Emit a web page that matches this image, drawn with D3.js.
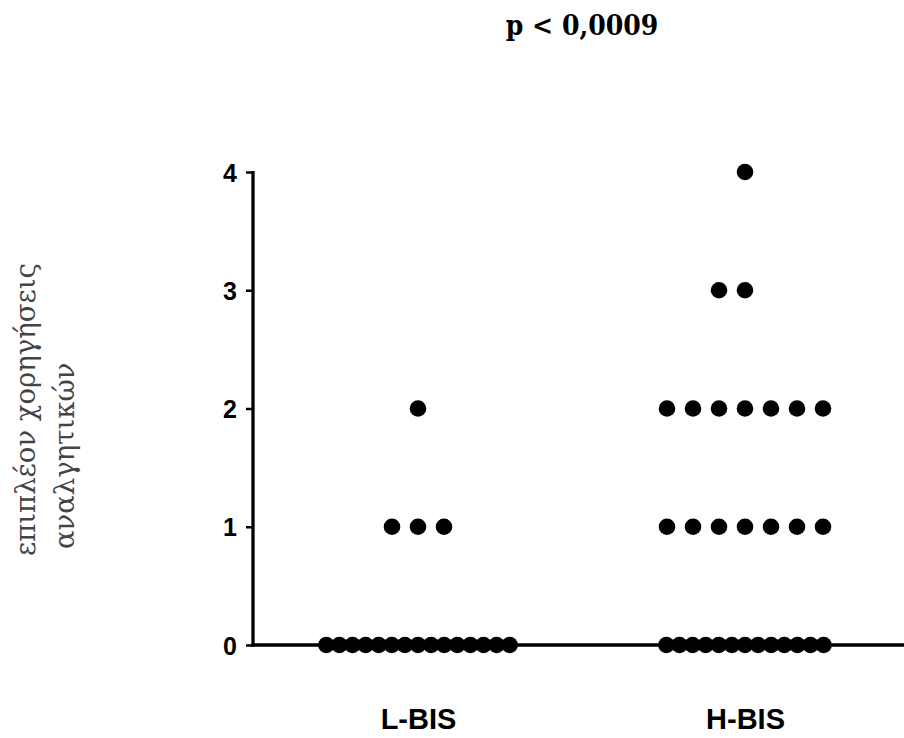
<!DOCTYPE html>
<html>
<head>
<meta charset="utf-8">
<script src="https://cdn.jsdelivr.net/npm/d3@7"></script>
<style>
  html, body { margin: 0; padding: 0; background: #fff; }
  svg { display: block; }
</style>
</head>
<body>
<svg id="chart" width="904" height="738"></svg>
<script>
// ---- data ----
const categories = ["L-BIS", "H-BIS"];
const lbisValues = [0,0,0,0,0,0,0,0,0,0,0,0,0,0,0, 1,1,1, 2];
const hbisValues = [0,0,0,0,0,0,0,0,0,0,0,0,0, 1,1,1,1,1,1,1, 2,2,2,2,2,2,2, 3,3, 4];
const yTicks = [0, 1, 2, 3, 4];
const titleText = "p < 0,0009";
const yLabelLines = ["επιπλέον χορηγήσεις", "αναλγητικών"];

// ---- layout ----
const svg = d3.select("#chart");
const axisX = 253;
const y = d3.scaleLinear().domain([0, 4]).range([645, 172]);
const x = d3.scalePoint().domain(categories).range([418, 745]);
const dotR = 8.3;
const wideStep = 26;
const tightStep = 13.1;

// title
svg.append("text")
  .attr("x", 582).attr("y", 35)
  .attr("text-anchor", "middle")
  .style("font-family", "'DejaVu Serif Condensed', 'DejaVu Serif', serif")
  .style("font-weight", "bold")
  .style("font-size", "28px")
  .style("fill", "#000")
  .text(titleText);

// y label (two lines, rotated)
const yl = svg.append("g");
yl.append("text")
  .attr("transform", "translate(35,556) rotate(-90)")
  .attr("text-anchor", "start")
  .style("font-family", "'DejaVu Serif', serif")
  .style("font-size", "27.5px")
  .style("fill", "#444")
  .text(yLabelLines[0]);
yl.append("text")
  .attr("transform", "translate(74,549) rotate(-90)")
  .attr("text-anchor", "start")
  .style("font-family", "'DejaVu Serif', serif")
  .style("font-size", "27.5px")
  .style("fill", "#444")
  .text(yLabelLines[1]);

// y axis
const yAxis = d3.axisLeft(y).tickValues(yTicks).tickFormat(d3.format("d"))
  .tickSize(7).tickSizeOuter(0).tickPadding(9);
const gy = svg.append("g").attr("transform", `translate(${axisX},0)`).call(yAxis);
gy.select(".domain").attr("stroke", "#000").attr("stroke-width", 3.3)
  .attr("d", `M0,${y(4) - 1}V${y(0) + 1.5}`);
gy.selectAll(".tick line").attr("stroke", "#000").attr("stroke-width", 2.5);
gy.selectAll(".tick text")
  .style("font-family", "'Liberation Sans', Arial, sans-serif")
  .style("font-weight", "bold")
  .style("font-size", "25px")
  .attr("fill", "#000")
  .attr("dy", "0.36em");

// x axis
const xAxis = d3.axisBottom(x).tickSize(6).tickSizeOuter(0).tickPadding(57);
const gx = svg.append("g").attr("transform", `translate(0,${y(0)})`).call(xAxis);
gx.select(".domain").attr("stroke", "#000").attr("stroke-width", 3.3)
  .attr("d", `M${axisX - 1.5},0H904`);
gx.selectAll(".tick line").attr("stroke", "#000").attr("stroke-width", 2.5);
gx.selectAll(".tick text")
  .style("font-family", "'Liberation Sans', Arial, sans-serif")
  .style("font-weight", "bold")
  .style("font-size", "29px")
  .attr("fill", "#000");

// dots (column scatter, centered rows)
const groups = [lbisValues, hbisValues];
const points = [];
groups.forEach((vals, gi) => {
  const counts = d3.rollup(vals, v => v.length, d => d);
  counts.forEach((n, v) => {
    const step = n > 7 ? tightStep : wideStep;
    for (let i = 0; i < n; i++) {
      const off = (n % 2 === 1) ? (i - (n - 1) / 2) : (i - n / 2);
      points.push({ cat: categories[gi], value: v, off: off * step });
    }
  });
});
svg.append("g").selectAll("circle").data(points).join("circle")
  .attr("cx", d => x(d.cat) + d.off)
  .attr("cy", d => y(d.value))
  .attr("r", dotR)
  .attr("fill", "#000");
</script>
</body>
</html>
